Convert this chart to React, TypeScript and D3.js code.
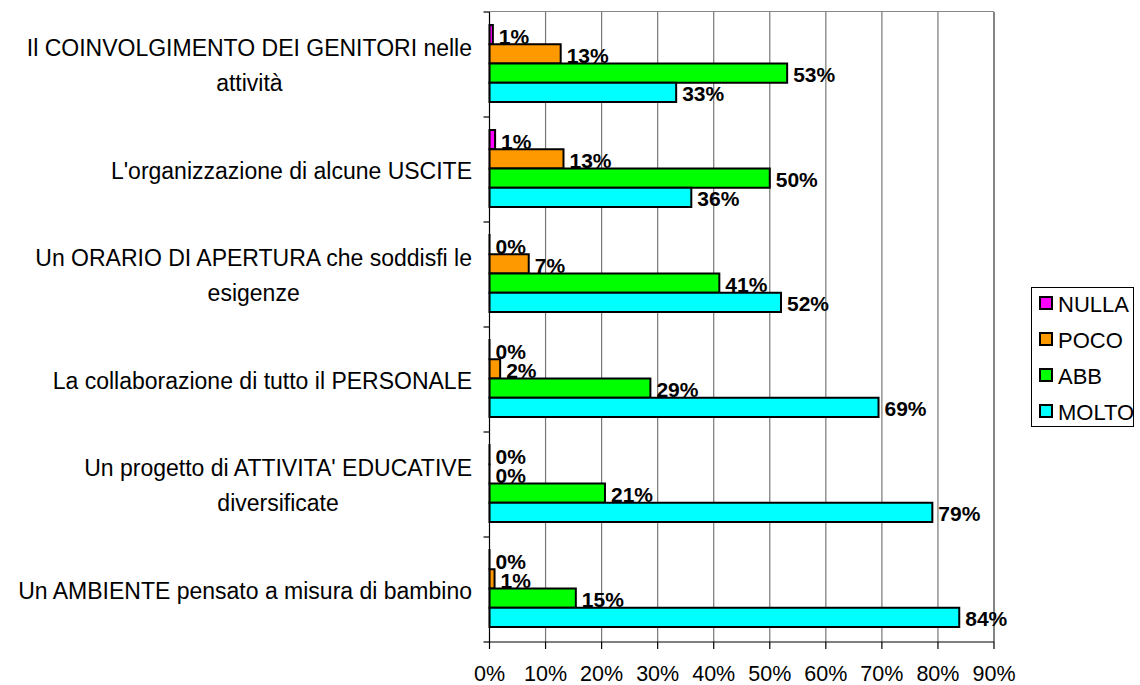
import { useEffect, useRef } from 'react';
import * as d3 from 'd3';

// category labels, already split on the lines they wrap to
const categories: string[][] = [
  ['Il COINVOLGIMENTO DEI GENITORI nelle', 'attività'],
  ["L'organizzazione di alcune USCITE"],
  ['Un ORARIO DI APERTURA che soddisfi le', 'esigenze'],
  ['La collaborazione di tutto il PERSONALE'],
  ["Un progetto di ATTIVITA' EDUCATIVE", 'diversificate'],
  ['Un AMBIENTE pensato a misura di bambino'],
];

const seriesNames = ['NULLA', 'POCO', 'ABB', 'MOLTO'];
const seriesColors = ['#ff00ff', '#ff9900', '#00ff00', '#00ffff'];

// percentages
const nulla = [0.6, 1.0, 0, 0, 0, 0];
const poco = [12.7, 13.2, 7.0, 1.9, 0, 0.9];
const abb = [53.1, 50.0, 41.0, 28.7, 20.6, 15.4];
const molto = [33.3, 36.0, 52.0, 69.4, 79.0, 83.8];

const xTicks = [0, 10, 20, 30, 40, 50, 60, 70, 80, 90];

const FONT = '"Liberation Sans", Arial, sans-serif';

function App() {
  const svgRef = useRef<SVGSVGElement>(null);

  useEffect(() => {
    const svg = d3.select(svgRef.current);
    svg.selectAll('*').remove();

    const values = [nulla, poco, abb, molto];

    const x = d3.scaleLinear().domain([0, 90]).range([489.5, 994]);
    const y = d3
      .scaleBand<number>()
      .domain(d3.range(categories.length))
      .range([12, 642]);
    const inner = d3.scaleBand<string>().domain(seriesNames).range([13, 90]);

    // gridlines + plot frame
    svg
      .append('g')
      .selectAll('line')
      .data(xTicks.slice(1))
      .enter()
      .append('line')
      .attr('x1', (d) => x(d))
      .attr('x2', (d) => x(d))
      .attr('y1', 12)
      .attr('y2', 642)
      .attr('stroke', (d) => (d === 90 ? '#333' : '#777'))
      .attr('stroke-width', 1.2);

    svg
      .append('line')
      .attr('x1', x(0))
      .attr('x2', x(90))
      .attr('y1', 11.5)
      .attr('y2', 11.5)
      .attr('stroke', '#888')
      .attr('stroke-width', 1);

    // bars
    seriesNames.forEach((name, si) => {
      const g = svg.append('g').attr('class', 'series-' + name);
      const data = values[si].map((v, ci) => ({ v, ci }));

      g.selectAll('rect')
        .data(data)
        .enter()
        .append('rect')
        .attr('x', x(0))
        .attr('y', (d) => y(d.ci)! + inner(name)!)
        .attr('width', (d) => Math.max(x(d.v) - x(0), 0.01))
        .attr('height', inner.bandwidth())
        .attr('fill', seriesColors[si])
        .attr('stroke', '#000')
        .attr('stroke-width', 2);

      g.selectAll('text')
        .data(data)
        .enter()
        .append('text')
        .attr('x', (d) => x(d.v) + 6)
        .attr('y', (d) => y(d.ci)! + inner(name)! + inner.bandwidth() / 2 + 1.5)
        .attr('dominant-baseline', 'central')
        .attr('font-family', FONT)
        .attr('font-size', 21)
        .attr('font-weight', 'bold')
        .attr('fill', '#000')
        .text((d) => Math.round(d.v) + '%');
    });

    // left axis
    svg
      .append('line')
      .attr('x1', x(0))
      .attr('x2', x(0))
      .attr('y1', 12)
      .attr('y2', 642)
      .attr('stroke', '#000')
      .attr('stroke-width', 1.2);
    const yTicks = d3.range(categories.length + 1).map((i) => 12 + i * y.step());
    svg
      .append('g')
      .selectAll('line')
      .data(yTicks)
      .enter()
      .append('line')
      .attr('x1', x(0) - 6)
      .attr('x2', x(0))
      .attr('y1', (d) => d)
      .attr('y2', (d) => d)
      .attr('stroke', '#000')
      .attr('stroke-width', 1.2);

    // category labels, block centred on its widest line, right edge near the axis
    categories.forEach((lines, ci) => {
      const cy = y(ci)! + y.bandwidth() / 2 + 1;
      const g = svg.append('g');
      g.selectAll('text')
        .data(lines)
        .enter()
        .append('text')
        .attr('x', 0)
        .attr('y', (_, li) => cy + (li - (lines.length - 1) / 2) * 35)
        .attr('text-anchor', 'middle')
        .attr('dominant-baseline', 'central')
        .attr('font-family', FONT)
        .attr('font-size', 23)
        .attr('fill', '#000')
        .text((d) => d);
      const w = (g.node() as SVGGElement).getBBox().width;
      g.attr('transform', `translate(${472 - w / 2},0)`);
    });

    // bottom axis
    svg
      .append('line')
      .attr('x1', x(0))
      .attr('x2', x(90))
      .attr('y1', 642)
      .attr('y2', 642)
      .attr('stroke', '#000')
      .attr('stroke-width', 1.2);
    const xAxis = svg.append('g');
    xAxis
      .selectAll('line')
      .data(xTicks)
      .enter()
      .append('line')
      .attr('x1', (d) => x(d))
      .attr('x2', (d) => x(d))
      .attr('y1', 642)
      .attr('y2', 649)
      .attr('stroke', '#000')
      .attr('stroke-width', 1.2);
    xAxis
      .selectAll('text')
      .data(xTicks)
      .enter()
      .append('text')
      .attr('x', (d) => x(d))
      .attr('y', 681)
      .attr('text-anchor', 'middle')
      .attr('font-family', FONT)
      .attr('font-size', 21.5)
      .attr('fill', '#000')
      .text((d) => d + '%');

    // legend
    const legend = svg.append('g');
    legend
      .append('rect')
      .attr('x', 1031.5)
      .attr('y', 287.5)
      .attr('width', 102)
      .attr('height', 139)
      .attr('fill', '#fff')
      .attr('stroke', '#000')
      .attr('stroke-width', 1);
    const items = legend
      .selectAll('g.item')
      .data(seriesNames)
      .enter()
      .append('g')
      .attr('class', 'item')
      .attr('transform', (_, i) => `translate(1039,${303 + i * 36})`);
    items
      .append('rect')
      .attr('x', 1)
      .attr('y', -6)
      .attr('width', 12)
      .attr('height', 12)
      .attr('fill', (_, i) => seriesColors[i])
      .attr('stroke', '#000')
      .attr('stroke-width', 2);
    items
      .append('text')
      .attr('x', 19)
      .attr('y', 1)
      .attr('dominant-baseline', 'central')
      .attr('font-family', FONT)
      .attr('font-size', 22)
      .attr('fill', '#000')
      .text((d) => d);
  }, []);

  return (
    <svg
      ref={svgRef}
      width={1140}
      height={685}
      style={{ position: 'absolute', left: 0, top: 0, display: 'block', background: '#fff' }}
    />
  );
}

export default App;
